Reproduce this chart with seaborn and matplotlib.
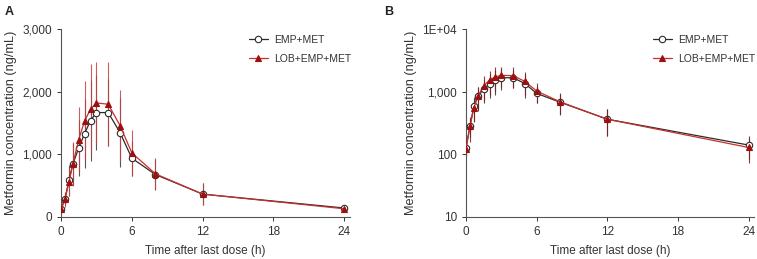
import numpy as np
import pandas as pd
import seaborn as sns
from matplotlib import pyplot as plt
from matplotlib.ticker import FixedLocator, FixedFormatter

time_h = [0, 0.33, 0.67, 1, 1.5, 2, 2.5, 3, 4, 5, 6, 8, 12, 24]
emp_mean = [125, 277, 585, 840, 1100, 1330, 1537, 1665, 1665, 1345, 936, 675, 362, 140]
emp_sd = [30, 90, 250, 340, 450, 550, 650, 600, 540, 550, 280, 250, 170, 55]
lob_mean = [122, 277, 548, 840, 1234, 1532, 1718, 1819, 1798, 1457, 1021, 686, 362, 128]
lob_sd = [30, 120, 220, 350, 520, 640, 720, 650, 670, 570, 370, 250, 170, 55]
groups = ["EMP+MET", "LOB+EMP+MET"]

sns.set_style("ticks")
plt.rcParams['font.family'] = ['Liberation Sans', 'DejaVu Sans']

df = pd.DataFrame({
    "time": time_h * 2,
    "conc": emp_mean + lob_mean,
    "sd": emp_sd + lob_sd,
    "group": [groups[0]] * len(time_h) + [groups[1]] * len(time_h),
})

line_col = {"EMP+MET": "#2b2b2b", "LOB+EMP+MET": "#c8302e"}
bar_col = {"EMP+MET": "#3a3a3a", "LOB+EMP+MET": "#c84040"}
face_col = {"EMP+MET": "white", "LOB+EMP+MET": "#9e1010"}
mk = {"EMP+MET": "o", "LOB+EMP+MET": "^"}
txt = "#333333"

fig = plt.figure(figsize=(7.57, 2.59), dpi=100)
axA = fig.add_axes([0.0806, 0.163, 0.382, 0.725])
axB = fig.add_axes([0.6156, 0.163, 0.381, 0.725])


def draw(ax, log=False):
    for g in groups:
        sub = df[df.group == g]
        bcol = bar_col[g] if not log else ("#333333" if g == groups[0] else "#7a2020")
        ax.errorbar(sub.time, sub.conc, yerr=sub.sd, fmt="none", ecolor=bcol,
                    elinewidth=0.8, capsize=0, alpha=0.85, zorder=1)
    for g in groups:
        sub = df[df.group == g]
        sns.lineplot(data=sub, x="time", y="conc", ax=ax, color=line_col[g],
                     marker=mk[g], markersize=4.6 if g == groups[0] else 4.4,
                     markerfacecolor=face_col[g], markeredgecolor=line_col[g] if g == groups[0] else "#9e1010",
                     markeredgewidth=0.8, linewidth=0.9, label=g, zorder=3, errorbar=None)
    ax.set_xlim(0, 24.5)
    ax.set_xticks([0, 6, 12, 18, 24])
    ax.set_xlabel("Time after last dose (h)", fontsize=8.5, color=txt, labelpad=5)
    ax.set_ylabel("Metformin concentration (ng/mL)", fontsize=9.2, color=txt, labelpad=4)
    for s in ["top", "right"]:
        ax.spines[s].set_visible(False)
    for s in ["left", "bottom"]:
        ax.spines[s].set_color("#555555")
        ax.spines[s].set_linewidth(0.8)
    ax.tick_params(axis="both", labelsize=8.5, colors=txt, length=3, width=0.7, direction="out")
    leg = ax.legend(loc="upper right", frameon=False, fontsize=7.5, handlelength=1.8,
                    handletextpad=0.6, labelspacing=0.9, bbox_to_anchor=(1.035, 1.02))
    for t in leg.get_texts():
        t.set_color(txt)


draw(axA)
axA.set_ylim(0, 3000)
axA.set_yticks([0, 1000, 2000, 3000])
axA.set_yticklabels(["0", "1,000", "2,000", "3,000"])

draw(axB, log=True)
axB.set_yscale("log")
axB.set_ylim(10, 10000)
axB.yaxis.set_major_locator(FixedLocator([10, 100, 1000, 10000]))
axB.yaxis.set_major_formatter(FixedFormatter(["10", "100", "1,000", "1E+04"]))
axB.yaxis.set_minor_locator(FixedLocator([]))

fig.text(0.006, 0.975, "A", fontsize=9, fontweight="bold", va="top", color="#222222")
fig.text(0.507, 0.975, "B", fontsize=9, fontweight="bold", va="top", color="#222222")

fig.savefig("out.png", dpi=100)
